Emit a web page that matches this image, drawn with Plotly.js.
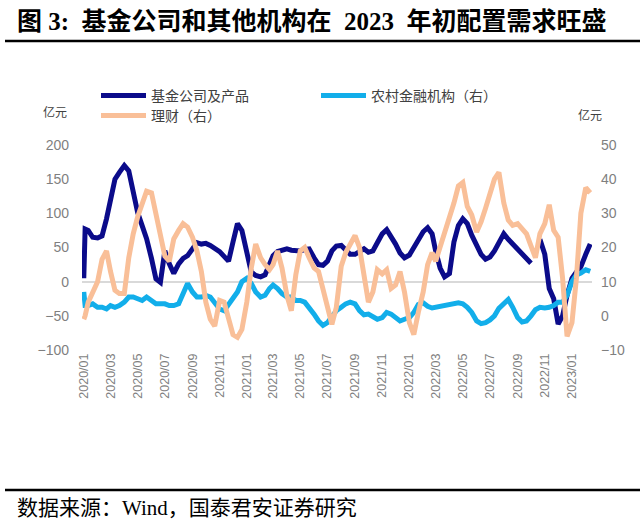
<!DOCTYPE html>
<html><head><meta charset="utf-8">
<script src="https://cdn.plot.ly/plotly-3.0.1.min.js"></script>
<style>html,body{margin:0;padding:0;background:#fff;} #chart{width:640px;height:530px;}</style>
</head><body><div id="chart"></div>
<script>
const dates = [
"2020-01-01","2020-01-04","2020-01-11","2020-01-21",
"2020-02-01","2020-02-11","2020-02-21","2020-03-01","2020-03-11","2020-03-21",
"2020-04-01","2020-04-11","2020-04-21","2020-05-01","2020-05-11","2020-05-21",
"2020-06-01","2020-06-11","2020-06-21","2020-07-01","2020-07-11","2020-07-21",
"2020-08-01","2020-08-11","2020-08-21","2020-09-01","2020-09-11","2020-09-21",
"2020-10-01","2020-10-11","2020-10-21","2020-11-01","2020-11-11","2020-11-21",
"2020-12-01","2020-12-11","2020-12-21",
"2021-01-01","2021-01-11","2021-01-21","2021-02-01","2021-02-11","2021-02-21",
"2021-03-01","2021-03-11","2021-03-21","2021-04-01","2021-04-11","2021-04-21",
"2021-05-01","2021-05-11","2021-05-21","2021-06-01","2021-06-11","2021-06-21",
"2021-07-01","2021-07-11","2021-07-21","2021-08-01","2021-08-11","2021-08-21",
"2021-09-01","2021-09-11","2021-09-21","2021-10-01","2021-10-11","2021-10-21",
"2021-11-01","2021-11-11","2021-11-21","2021-12-01","2021-12-11","2021-12-21",
"2022-01-01","2022-01-11","2022-01-21","2022-02-01","2022-02-11","2022-02-21",
"2022-03-01","2022-03-11","2022-03-21","2022-04-01","2022-04-11","2022-04-21",
"2022-05-01","2022-05-11","2022-05-21","2022-06-01","2022-06-11","2022-06-21",
"2022-07-01","2022-07-11","2022-07-21","2022-08-01","2022-08-11","2022-08-21",
"2022-09-01","2022-09-11","2022-09-21","2022-10-01","2022-10-11","2022-10-21",
"2022-11-01","2022-11-11","2022-11-21","2022-12-01","2022-12-11","2022-12-21",
"2023-01-01","2023-01-11","2023-01-21","2023-02-01","2023-02-11"
];

// 基金公司及产品 (左轴, 亿元)
const fundCompanies = [
5,77,75,65,
64,67,92, 116,150,160,
170,162,133, 101,82,63,
34,4,-1, 45,26,12,
26,34,38, 48,57,55,
56,53,49, 44,37,30,
58,85,75,
40,14,9, 7,10,25,
38,44,46, 48,46,46,
45,47,48, 35,25,24,
30,45,52, 53,47,40,
40,45,48, 43,45,57,
70,76,66, 55,42,35,
39,50,60, 73,79,70,
45,20,7, 12,58,82,
92,85,68, 55,40,33,
36,45,58, 70,62,55,
48,43,36, 27,null,62,
40,-10,-25, -62,-50,-20,
5,14,22, 40,55
];

// 农村金融机构（右）
const ruralInstitutions = [
7,3,3,3.5,
2.5,2.5,2, 3,2.5,3,
4,5.5,5.5, 5,4.5,5.5,
4.5,3.5,3.5, 3.5,3,3,
3.5,7,9.5, 7,5.5,5.5,
6,5.5,4, 2,1.5,3.5,
5,7,10,
11,9.5,7, 5.5,6,8,
9,8,6.5, 5.5,5.5,4.5,
4.5,4,2.5, 0.5,-1.5,-2.8,
-2,-0.5,1.5, 2.5,3.5,4,
3.5,1.5,0.3, 0.5,-0.2,-1,
-0.5,1,0.5, -0.5,-1.5,-1,
-0.5,1,3.3, 3.8,2.8,2.3,
2.5,2.5,3, 3,3.5,3.8,
3.5,2.5,1, -1.5,-2.3,-2,
-1.2,0,2.2, 3.8,4.8,2.5,
-0.5,-1.8,-1.5, 0,1.8,2.5,
2.3,2.5,3, 4,4,6,
10,12,12.5, 13.5,13
];

// 理财（右）
const wealthManagement = [
-1,0,4,6.5,
10,16.5,19, 13,7.5,6.5,
6.5,17,24, 29,33,36.5,
36,30,23, 17.5,16,22.5,
25,27,26, 23,19,13,
4,-1,-3, 4.5,4,-1.5,
-5.5,-6.3,-4,
4,14,21, 17,15,13.5,
15,19,14, 6,1.5,12,
19,20,17, 14,13,7.5,
3,-2.5,2.5, 14.5,18.5,21,
23.5,20,12, 4,7,13.5,
12.3,13.5,8, 9,13,7,
-2,-5.5,1, 7,15,18.5,
16,20,25, 28.5,33,38,
39,32,29.5, 24.5,27.5,31.5,
36,40,42, 33,28,26.5,
27,25.5,24, 20.5,17,24,
27,32.5,25, 23,11,-6,
-2,11,30, 37.5,36
];

const xTickDates = ["2020-01-01","2020-03-01","2020-05-01","2020-07-01","2020-09-01","2020-11-01",
"2021-01-01","2021-03-01","2021-05-01","2021-07-01","2021-09-01","2021-11-01",
"2022-01-01","2022-03-01","2022-05-01","2022-07-01","2022-09-01","2022-11-01","2023-01-01"];
const xTickLabels = ["2020/01","2020/03","2020/05","2020/07","2020/09","2020/11",
"2021/01","2021/03","2021/05","2021/07","2021/09","2021/11",
"2022/01","2022/03","2022/05","2022/07","2022/09","2022/11","2023/01"];
const seriesNames = ["基金公司及产品","农村金融机构（右）","理财（右）"];
const titleText = "<b>图 3:  基金公司和其他机构在  2023  年初配置需求旺盛</b>";
const sourceText = "数据来源：Wind，国泰君安证券研究";
const unitText = "亿元";

// plot area in pixels
const L = 82, T = 145, W = 510, H = 205;
const px = v => (v - L) / W;
const py = v => (T + H - v) / H;

const cjk = "'Noto Sans CJK SC', sans-serif";
const serifMix = "'Liberation Serif', 'Noto Sans CJK SC', serif";
const tickFont = {family: "'Liberation Sans', Arial, sans-serif", size: 14, color: "#7f7f7f"};
const legendFont = {family: cjk, size: 14, color: "#404040"};

const traces = [
  {x: dates, y: fundCompanies, name: seriesNames[0], type: "scatter", mode: "lines",
   line: {color: "#0b0b8a", width: 5}, yaxis: "y", connectgaps: false, legend: "legend"},
  {x: dates, y: ruralInstitutions, name: seriesNames[1], type: "scatter", mode: "lines",
   line: {color: "#12aeea", width: 5}, yaxis: "y2", legend: "legend2"},
  {x: dates, y: wealthManagement, name: seriesNames[2], type: "scatter", mode: "lines",
   line: {color: "#f9bf98", width: 5}, yaxis: "y2", legend: "legend3"}
];

function legendAt(xPix, yTopPix) {
  return {orientation: "h", x: px(xPix), y: py(yTopPix), xanchor: "left", yanchor: "top",
    font: legendFont, bgcolor: "rgba(0,0,0,0)", itemwidth: 45};
}

const layout = {
  width: 640, height: 530,
  margin: {l: L, r: 640 - L - W, t: T, b: 530 - T - H, pad: 0},
  paper_bgcolor: "#ffffff", plot_bgcolor: "#ffffff",
  showlegend: true,
  xaxis: {type: "date", range: ["2019-12-28", "2023-02-15"], tickvals: xTickDates, ticktext: xTickLabels,
    tickangle: -90, tickfont: {family: "'Liberation Sans', Arial, sans-serif", size: 12.5, color: "#7f7f7f"},
    showgrid: false, zeroline: false, showline: false, ticks: "", fixedrange: true},
  yaxis: {range: [-100, 200], tick0: 0, dtick: 50, tickfont: tickFont, showgrid: false,
    zeroline: true, zerolinecolor: "#d9d9d9", zerolinewidth: 2, showline: false, ticks: "",
    ticklabelstandoff: 12},
  yaxis2: {range: [-10, 50], tick0: 0, dtick: 10, overlaying: "y", side: "right", tickfont: tickFont,
    showgrid: false, zeroline: false, showline: false, ticks: "", ticklabelstandoff: 8},
  legend: legendAt(96, 80),
  legend2: legendAt(316, 80),
  legend3: legendAt(96, 100),
  annotations: [
    {text: titleText, xref: "paper", yref: "paper", x: px(15), y: py(22), xanchor: "left", yanchor: "middle",
     showarrow: false, font: {family: serifMix, size: 25, color: "#000000"}},
    {text: sourceText, xref: "paper", yref: "paper", x: px(15), y: py(508), xanchor: "left", yanchor: "middle",
     showarrow: false, font: {family: serifMix, size: 21, color: "#000000"}},
    {text: unitText, xref: "paper", yref: "paper", x: px(55), y: py(111), xanchor: "center", yanchor: "middle",
     showarrow: false, font: {family: cjk, size: 12, color: "#404040"}},
    {text: unitText, xref: "paper", yref: "paper", x: px(590), y: py(114), xanchor: "center", yanchor: "middle",
     showarrow: false, font: {family: cjk, size: 12, color: "#404040"}}
  ],
  shapes: [
    {type: "line", xref: "paper", yref: "paper", x0: px(5), x1: px(640), y0: py(41), y1: py(41),
     line: {color: "#000000", width: 2.5}},
    {type: "line", xref: "paper", yref: "paper", x0: px(5), x1: px(640), y0: py(490), y1: py(490),
     line: {color: "#000000", width: 2.5}}
  ]
};

Plotly.newPlot("chart", traces, layout, {displayModeBar: false, staticPlot: true});
</script>
</body></html>
